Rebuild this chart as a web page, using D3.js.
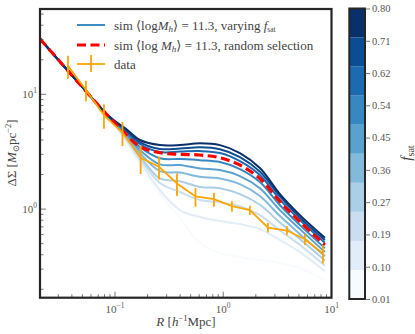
<!DOCTYPE html>
<html>
<head>
<meta charset="utf-8">
<script src="https://cdn.jsdelivr.net/npm/d3@7"></script>
<style>
  body { margin: 0; background: #fff; }
  text { font-family: "Liberation Serif", "DejaVu Serif", serif; }
</style>
</head>
<body>
<div id="chart"></div>
<script>
// f_sat values of the simulated curves (lowest -> highest)
const fsatValues = [0.01, 0.0978, 0.1856, 0.2733, 0.3611, 0.4489, 0.5367, 0.6244, 0.7122, 0.80];
// colorbar band edges
const bandEdges = [0.01, 0.089, 0.168, 0.247, 0.326, 0.405, 0.484, 0.563, 0.642, 0.721, 0.80];

// radius grid of the model curves
const modelR = [0.0203, 0.0475, 0.0899, 0.1236, 0.170, 0.260, 0.398, 0.609, 0.932, 1.426, 2.18, 3.34, 5.11, 8.69];

// one curve per f_sat, same order as fsatValues
const simCurves = [
  [30.4, 12.2, 6.09, 3.92, 2.37, 1.35, 0.835, 0.505, 0.413, 0.382, 0.359, 0.338, 0.306, 0.240],
  [30.4, 12.2, 6.15, 4.08, 2.57, 1.46, 0.98, 0.852, 0.786, 0.740, 0.669, 0.537, 0.422, 0.288],
  [30.4, 12.2, 6.18, 4.24, 2.73, 1.69, 1.41, 1.20, 1.15, 1.06, 0.886, 0.650, 0.486, 0.321],
  [30.4, 12.2, 6.21, 4.37, 2.90, 1.85, 1.75, 1.56, 1.52, 1.35, 1.09, 0.763, 0.548, 0.356],
  [30.4, 12.2, 6.21, 4.51, 3.08, 2.14, 2.08, 1.91, 1.85, 1.65, 1.30, 0.869, 0.605, 0.389],
  [30.4, 12.2, 6.21, 4.60, 3.27, 2.45, 2.42, 2.26, 2.19, 1.94, 1.52, 0.98, 0.669, 0.422],
  [30.4, 12.2, 6.21, 4.74, 3.47, 2.77, 2.73, 2.67, 2.57, 2.23, 1.72, 1.08, 0.725, 0.457],
  [30.4, 12.2, 6.25, 4.88, 3.69, 3.14, 3.17, 3.20, 3.08, 2.62, 1.98, 1.21, 0.802, 0.508],
  [30.4, 12.2, 6.28, 4.98, 3.84, 3.34, 3.37, 3.45, 3.32, 2.84, 2.12, 1.29, 0.843, 0.537],
  [30.4, 12.2, 6.34, 5.08, 4.00, 3.61, 3.61, 3.74, 3.61, 3.08, 2.28, 1.35, 0.886, 0.562]
];

// random selection curve
const randomSel = [30.4, 12.2, 6.21, 4.58, 3.49, 3.10, 3.00, 2.96, 2.80, 2.42, 1.85, 1.16, 0.775, 0.486];

// observed data
const dataR = [0.0368, 0.054, 0.0791, 0.1173, 0.1727, 0.255, 0.3737, 0.554, 0.8207, 1.203, 1.764, 2.586, 3.875, 5.68, 8.33];
const dataDS = [17.7, 10.9, 6.6, 4.65, 2.8, 2.34, 1.67, 1.29, 1.22, 1.06, 0.98, 0.69, 0.65, 0.546, 0.41];
const dataErr = [4.0, 2.2, 1.6, 1.1, 0.78, 0.53, 0.37, 0.24, 0.17, 0.11, 0.09, 0.065, 0.058, 0.06, 0.075];

const W = 415, H = 334;
const plot = { left: 40, right: 331.5, top: 9, bottom: 297.7 };

const svg = d3.select("#chart").append("svg")
  .attr("width", W).attr("height", H);

const x = d3.scaleLog().domain([0.0203, 10]).range([plot.left, plot.right]);
const y = d3.scaleLog().domain([0.169, 55.4]).range([plot.bottom, plot.top]);

const color = f => d3.interpolateBlues((f - 0.01) / 0.79);

svg.append("clipPath").attr("id", "clip")
  .append("rect")
  .attr("x", plot.left).attr("y", plot.top)
  .attr("width", plot.right - plot.left).attr("height", plot.bottom - plot.top);

const gPlot = svg.append("g").attr("clip-path", "url(#clip)");

const line = d3.line()
  .x(d => x(d[0]))
  .y(d => y(d[1]))
  .curve(d3.curveCatmullRom.alpha(0.5));

// blue curves
simCurves.forEach((vals, i) => {
  gPlot.append("path")
    .datum(modelR.map((r, j) => [r, vals[j]]))
    .attr("fill", "none")
    .attr("stroke", color(fsatValues[i]))
    .attr("stroke-width", 2)
    .attr("d", line);
});

// random selection (red dashed)
gPlot.append("path")
  .datum(modelR.map((r, j) => [r, randomSel[j]]))
  .attr("fill", "none")
  .attr("stroke", "#ff0000")
  .attr("stroke-width", 3.2)
  .attr("stroke-dasharray", "9,4.5")
  .attr("d", line);

// data with error bars
const orange = "#ffa500";
const pts = dataR.map((r, i) => ({ r, v: dataDS[i], e: dataErr[i] }));
gPlot.append("path")
  .datum(pts.map(d => [d.r, d.v]))
  .attr("fill", "none")
  .attr("stroke", orange)
  .attr("stroke-width", 1.8)
  .attr("d", d3.line().x(d => x(d[0])).y(d => y(d[1])));
gPlot.selectAll(".err")
  .data(pts).enter().append("line")
  .attr("x1", d => x(d.r)).attr("x2", d => x(d.r))
  .attr("y1", d => y(d.v + d.e)).attr("y2", d => y(d.v - d.e))
  .attr("stroke", orange)
  .attr("stroke-width", 1.8);

// axes ticks (inward)
const tickCol = "#555";
function drawTicks() {
  const xMajor = [0.1, 1, 10];
  const xMinor = [];
  [0.01, 0.1, 1].forEach(b => { for (let k = 2; k <= 9; k++) xMinor.push(b * k); });
  const yMajor = [1, 10];
  const yMinor = [];
  [0.1, 1, 10].forEach(b => { for (let k = 2; k <= 9; k++) yMinor.push(b * k); });

  const g = svg.append("g");
  xMinor.filter(v => v >= 0.0203 && v <= 10).forEach(v => {
    g.append("line").attr("x1", x(v)).attr("x2", x(v))
      .attr("y1", plot.bottom).attr("y2", plot.bottom - 3.5)
      .attr("stroke", tickCol).attr("stroke-width", 0.8);
  });
  xMajor.forEach(v => {
    g.append("line").attr("x1", x(v)).attr("x2", x(v))
      .attr("y1", plot.bottom).attr("y2", plot.bottom - 6)
      .attr("stroke", tickCol).attr("stroke-width", 0.8);
  });
  yMinor.filter(v => v >= 0.169 && v <= 55.4).forEach(v => {
    g.append("line").attr("y1", y(v)).attr("y2", y(v))
      .attr("x1", plot.left).attr("x2", plot.left + 3.5)
      .attr("stroke", tickCol).attr("stroke-width", 0.8);
  });
  yMajor.forEach(v => {
    g.append("line").attr("y1", y(v)).attr("y2", y(v))
      .attr("x1", plot.left).attr("x2", plot.left + 6)
      .attr("stroke", tickCol).attr("stroke-width", 0.8);
  });

  // tick labels
  const xLabels = [[0.1, "\u22121"], [1, "0"], [10, "1"]];
  xLabels.forEach(([v, e]) => {
    const t = g.append("text")
      .attr("x", x(v)).attr("y", plot.bottom + 15)
      .attr("text-anchor", "middle")
      .attr("fill", tickCol).style("font-size", "11px");
    t.append("tspan").text("10");
    t.append("tspan").attr("dy", -5).style("font-size", "7.5px").text(e);
  });
  const yLabels = [[1, "0"], [10, "1"]];
  yLabels.forEach(([v, e]) => {
    const t = g.append("text")
      .attr("x", plot.left - 3).attr("y", y(v) + 4)
      .attr("text-anchor", "end")
      .attr("fill", tickCol).style("font-size", "11px");
    t.append("tspan").text("10");
    t.append("tspan").attr("dy", -5).style("font-size", "7.5px").text(e);
  });
}
drawTicks();

// frame
svg.append("rect")
  .attr("x", plot.left).attr("y", plot.top)
  .attr("width", plot.right - plot.left).attr("height", plot.bottom - plot.top)
  .attr("fill", "none").attr("stroke", "#262626").attr("stroke-width", 2.2);

// axis labels
const xl = svg.append("text")
  .attr("x", 186).attr("y", 326)
  .attr("text-anchor", "middle")
  .attr("fill", "#444").style("font-size", "13px");
xl.append("tspan").style("font-style", "italic").text("R");
xl.append("tspan").text(" [");
xl.append("tspan").style("font-style", "italic").text("h");
xl.append("tspan").attr("dy", -5).style("font-size", "8.5px").text("\u22121");
xl.append("tspan").attr("dy", 5).text("Mpc]");

const yl = svg.append("text")
  .attr("transform", "translate(16,153) rotate(-90)")
  .attr("text-anchor", "middle")
  .attr("fill", "#444").style("font-size", "13px");
yl.append("tspan").text("\u0394\u03A3 [");
yl.append("tspan").style("font-style", "italic").text("M");
yl.append("tspan").attr("dy", 2.5).style("font-size", "8.5px").text("\u2299");
yl.append("tspan").attr("dy", -2.5).text("pc");
yl.append("tspan").attr("dy", -5).style("font-size", "8.5px").text("\u22122");
yl.append("tspan").attr("dy", 5).text("]");

// legend
const lg = svg.append("g");
const rows = [25, 45, 64];
lg.append("line").attr("x1", 77).attr("x2", 105).attr("y1", rows[0]).attr("y2", rows[0])
  .attr("stroke", d3.interpolateBlues(0.65)).attr("stroke-width", 2);
lg.append("line").attr("x1", 77).attr("x2", 105).attr("y1", rows[1]).attr("y2", rows[1])
  .attr("stroke", "#ff0000").attr("stroke-width", 3.2).attr("stroke-dasharray", "9,4.5");
lg.append("line").attr("x1", 77).attr("x2", 105).attr("y1", rows[2]).attr("y2", rows[2])
  .attr("stroke", orange).attr("stroke-width", 1.8);
lg.append("line").attr("x1", 91).attr("x2", 91).attr("y1", rows[2] - 9).attr("y2", rows[2] + 8)
  .attr("stroke", orange).attr("stroke-width", 1.8);

function legendText(yy, tail, varying) {
  const t = lg.append("text").attr("x", 114).attr("y", yy + 4.5)
    .attr("fill", "#444").style("font-size", "13px");
  t.append("tspan").text(varying ? "sim \u27E8log" : "sim \u27E8log ");
  t.append("tspan").style("font-style", "italic").text("M");
  t.append("tspan").attr("dy", 2.5).style("font-size", "9px").style("font-style", "italic").text("h");
  t.append("tspan").attr("dy", -2.5).text("\u27E9 = 11.3,  " + tail);
  if (varying) {
    t.append("tspan").style("font-style", "italic").text(" f");
    t.append("tspan").attr("dy", 2.5).style("font-size", "7.5px").text("sat");
  }
}
legendText(rows[0], "varying", true);
legendText(rows[1], "random selection", false);
lg.append("text").attr("x", 114).attr("y", rows[2] + 4.5)
  .attr("fill", "#444").style("font-size", "13px").text("data");

// colorbar
const cb = { x: 349.3, w: 15.7, top: 8.5, bottom: 299 };
const cy = d3.scaleLinear().domain([0.01, 0.80]).range([cb.bottom, cb.top]);
const gcb = svg.append("g");
d3.range(bandEdges.length - 1).forEach(i => {
  gcb.append("rect")
    .attr("x", cb.x).attr("width", cb.w)
    .attr("y", cy(bandEdges[i + 1])).attr("height", cy(bandEdges[i]) - cy(bandEdges[i + 1]))
    .attr("fill", d3.interpolateBlues(i / 9));
});
gcb.append("rect")
  .attr("x", cb.x).attr("y", cb.top).attr("width", cb.w).attr("height", cb.bottom - cb.top)
  .attr("fill", "none").attr("stroke", "#262626").attr("stroke-width", 2);
const cAxis = d3.axisRight(cy).tickValues(fsatValues).tickFormat(d3.format(".2f"))
  .tickSize(5).tickPadding(2);
const ca = gcb.append("g").attr("transform", `translate(${cb.x + cb.w},0)`).call(cAxis);
ca.select(".domain").remove();
ca.selectAll("line").attr("stroke", tickCol).attr("stroke-width", 0.8);
ca.selectAll("text").attr("fill", tickCol)
  .style("font-family", "'Liberation Serif', serif").style("font-size", "10.5px");

const fl = svg.append("text")
  .attr("transform", "translate(411,153) rotate(-90)")
  .attr("text-anchor", "middle")
  .attr("fill", "#444").style("font-size", "15px");
fl.append("tspan").style("font-style", "italic").text("f");
fl.append("tspan").attr("dy", 3).style("font-size", "10px").text("sat");
</script>
</body>
</html>
